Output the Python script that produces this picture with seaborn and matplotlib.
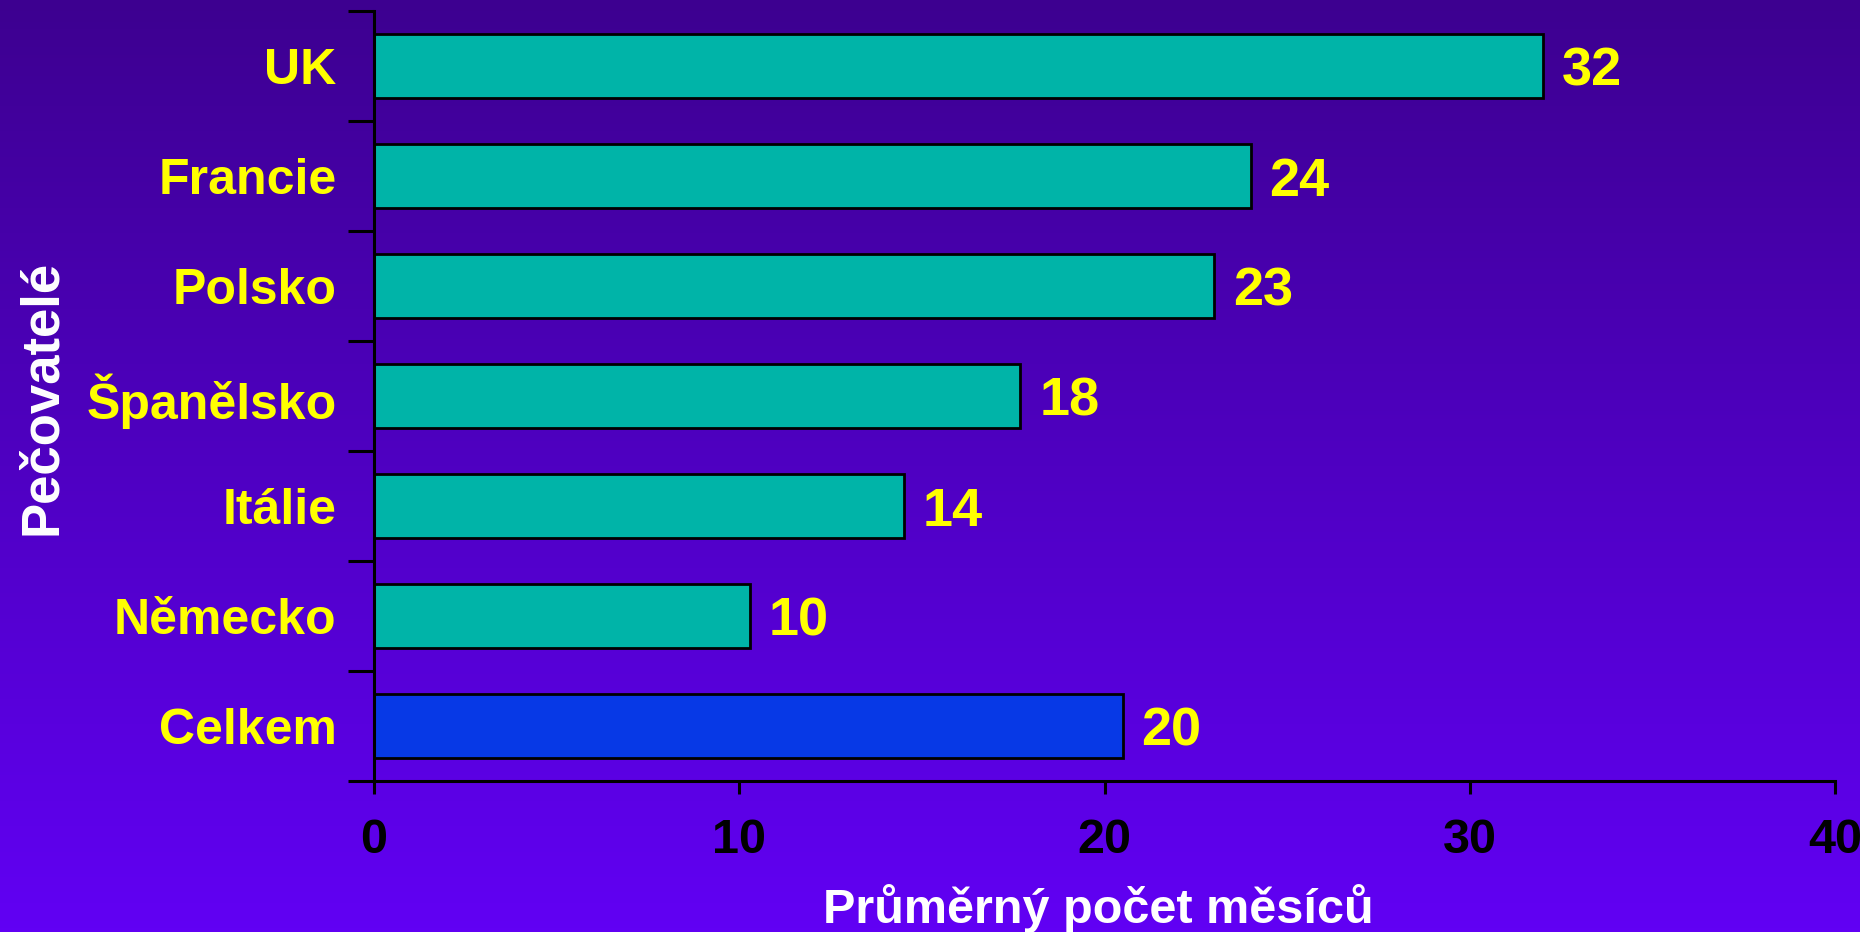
import numpy as np
import matplotlib
matplotlib.use("Agg")
import matplotlib.pyplot as plt
import seaborn as sns

# ---- data ----
countries = ["UK", "Francie", "Polsko", "Španělsko", "Itálie", "Německo", "Celkem"]
months = [32, 24, 23, 17.7, 14.5, 10.3, 20.5]
value_labels = ["32", "24", "23", "18", "14", "10", "20"]
bar_colors = ["#00B4A8"] * 6 + ["#0739E6"]
x_ticks = [0, 10, 20, 30, 40]
x_title = "Průměrný počet měsíců"
y_title = "Pečovatelé"

sns.set_style("white")
plt.rcParams["font.family"] = ["Liberation Sans", "DejaVu Sans"]
plt.rcParams["font.weight"] = "bold"

W, H = 1860, 932
fig = plt.figure(figsize=(W / 100, H / 100), dpi=100)

# background gradient
bg = fig.add_axes([0, 0, 1, 1], zorder=0)
top = np.array([0x3D, 0x00, 0x90]) / 255
bot = np.array([0x61, 0x00, 0xF4]) / 255
t = np.linspace(0, 1, 256)[:, None]
grad = (top[None, :] * (1 - t) + bot[None, :] * t)[:, None, :]
bg.imshow(grad, aspect="auto", extent=[0, 1, 0, 1])
bg.axis("off")

ax_l, ax_r = 374 / W, 1835 / W
ax_t, ax_b = 11 / H, 781 / H
ax = fig.add_axes([ax_l, 1 - ax_b, ax_r - ax_l, ax_b - ax_t], zorder=1)
ax.set_facecolor("none")

sns.barplot(x=months, y=countries, hue=countries, palette=bar_colors,
            orient="h", width=0.58, edgecolor="black", linewidth=2.0,
            legend=False, saturation=1, ax=ax)

for cont, lab in zip(ax.containers, value_labels):
    anns = ax.bar_label(cont, labels=[lab], padding=13.5, fontsize=39,
                        color="#FFFF00", fontweight="bold")
    for a in anns:
        a.set_verticalalignment("center_baseline")

ax.set_xlim(0, 40)
ax.set_ylim(6.5, -0.5)
ax.set_xticks(x_ticks)
ax.set_xticklabels([str(v) for v in x_ticks])

for s in ["top", "right"]:
    ax.spines[s].set_visible(False)
for s in ["left", "bottom"]:
    ax.spines[s].set_color("black")
    ax.spines[s].set_linewidth(2.2)

ax.tick_params(axis="x", which="major", direction="out", length=9.5, width=2.2,
               color="black", labelsize=35, labelcolor="black", pad=17, bottom=True)
ax.tick_params(axis="y", which="major", length=0, labelsize=36,
               labelcolor="#FFFF00", pad=27, left=True)
ax.set_yticks(np.arange(-0.5, 7.0, 1.0), minor=True)
ax.tick_params(axis="y", which="minor", direction="out", length=18.7, width=2.2,
               color="black", left=True)
for lab in ax.get_xticklabels():
    lab.set_fontweight("bold")
for lab in ax.get_yticklabels():
    lab.set_fontweight("bold")
    lab.set_verticalalignment("center_baseline")

ax.set_xlabel(x_title, fontsize=35, color="white", fontweight="bold")
ax.xaxis.set_label_coords((1098 - 374) / (1835 - 374), -(923 - 781) / 770)
ax.xaxis.label.set_verticalalignment("baseline")

ax.set_ylabel(y_title, fontsize=38, color="white", fontweight="bold")
ax.yaxis.set_label_coords((56 - 374) / (1835 - 374), (781 - 397) / 770)
ax.yaxis.label.set_verticalalignment("baseline")

fig.savefig("out.png", dpi=100)
